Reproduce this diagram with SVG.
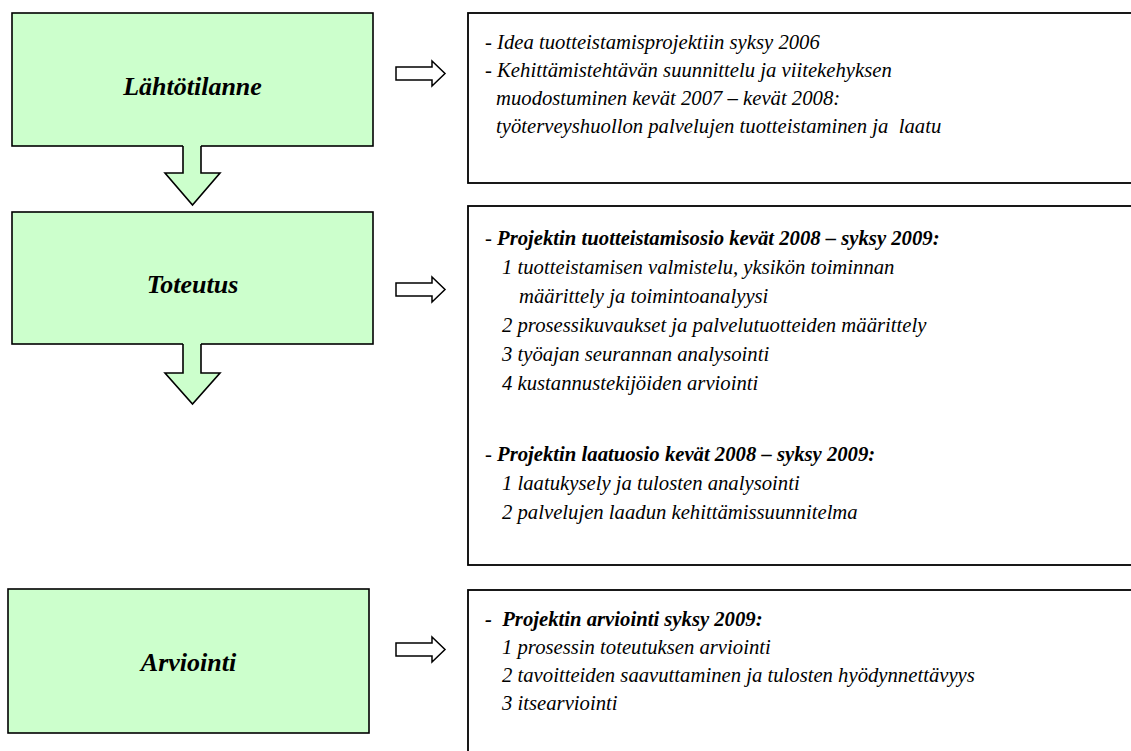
<svg xmlns="http://www.w3.org/2000/svg" width="1131" height="751" viewBox="0 0 1131 751">
  <style>
    .phase { fill: #CCFFCC; stroke: #000; stroke-width: 1.6; }
    .note { fill: #fff; stroke: #000; stroke-width: 1.8; }
    .label { font-family: "Liberation Serif", "Times New Roman", serif; font-size: 26px; font-style: italic; font-weight: bold; fill: #000; text-anchor: middle; }
    .txt { font-family: "Liberation Serif", "Times New Roman", serif; font-size: 20.7px; font-style: italic; fill: #000; }
    .b { font-weight: bold; }
    .flow-fill { fill: #CCFFCC; stroke: none; }
    .flow-line { fill: none; stroke: #000; stroke-width: 1.6; stroke-linejoin: miter; }
    .side { fill: #fff; stroke: #000; stroke-width: 1.5; stroke-linejoin: miter; }
  </style>

  <rect width="1131" height="751" fill="#fff"/>

  <!-- phase boxes -->
  <g id="lahtotilanne">
    <rect class="phase" x="12" y="13" width="361" height="133"/>
    <text class="label" x="192.5" y="95">Lähtötilanne</text>
  </g>
  <g id="toteutus">
    <rect class="phase" x="12" y="212" width="361" height="132"/>
    <text class="label" x="192.5" y="293">Toteutus</text>
  </g>
  <g id="arviointi">
    <rect class="phase" x="8" y="589" width="361" height="144"/>
    <text class="label" x="188.5" y="671">Arviointi</text>
  </g>

  <!-- description boxes -->
  <g id="lahtotilanne-details">
    <rect class="note" x="468" y="13" width="680" height="170"/>
    <text class="txt" x="485" y="49">- Idea tuotteistamisprojektiin syksy 2006</text>
    <text class="txt" x="485" y="77">- Kehittämistehtävän suunnittelu ja viitekehyksen</text>
    <text class="txt" x="496" y="105">muodostuminen kevät 2007 – kevät 2008:</text>
    <text class="txt" x="496" y="133" xml:space="preserve">työterveyshuollon palvelujen tuotteistaminen ja  laatu</text>
  </g>

  <g id="toteutus-details">
    <rect class="note" x="468" y="206" width="680" height="359"/>
    <text class="txt" x="485" y="245">- <tspan class="b">Projektin tuotteistamisosio kevät 2008 – syksy 2009:</tspan></text>
    <text class="txt" x="502" y="274">1 tuotteistamisen valmistelu, yksikön toiminnan</text>
    <text class="txt" x="519" y="303">määrittely ja toimintoanalyysi</text>
    <text class="txt" x="502" y="332">2 prosessikuvaukset ja palvelutuotteiden määrittely</text>
    <text class="txt" x="502" y="361">3 työajan seurannan analysointi</text>
    <text class="txt" x="502" y="390">4 kustannustekijöiden arviointi</text>
    <text class="txt" x="485" y="461">- <tspan class="b">Projektin laatuosio kevät 2008 – syksy 2009:</tspan></text>
    <text class="txt" x="502" y="490">1 laatukysely ja tulosten analysointi</text>
    <text class="txt" x="502" y="519">2 palvelujen laadun kehittämissuunnitelma</text>
  </g>

  <g id="arviointi-details">
    <rect class="note" x="468" y="590" width="680" height="200"/>
    <text class="txt b" x="485" y="626" xml:space="preserve">-  Projektin arviointi syksy 2009:</text>
    <text class="txt" x="502" y="654">1 prosessin toteutuksen arviointi</text>
    <text class="txt" x="502" y="682">2 tavoitteiden saavuttaminen ja tulosten hyödynnettävyys</text>
    <text class="txt" x="502" y="710">3 itsearviointi</text>
  </g>

  <!-- connectors -->
  <g id="connectors">
    <!-- downward block arrows between phases -->
    <polygon class="flow-fill" points="183,145 201,145 201,173 220,173 192.5,205 165,173 183,173"/>
    <polyline class="flow-line" points="183,146 183,173 165,173 192.5,205 220,173 201,173 201,146"/>
    <polygon class="flow-fill" points="183,343 201,343 201,373 220,373 192.5,404 165,373 183,373"/>
    <polyline class="flow-line" points="183,344 183,373 165,373 192.5,404 220,373 201,373 201,344"/>

    <!-- side arrows toward the description boxes -->
    <polygon class="side" points="396,67 432,67 432,61 445,73.5 432,86 432,80 396,80"/>
    <polygon class="side" points="396,283 432,283 432,277 445,289.5 432,302 432,296 396,296"/>
    <polygon class="side" points="396,643 432,643 432,637 445,649.5 432,662 432,656 396,656"/>
  </g>
</svg>
